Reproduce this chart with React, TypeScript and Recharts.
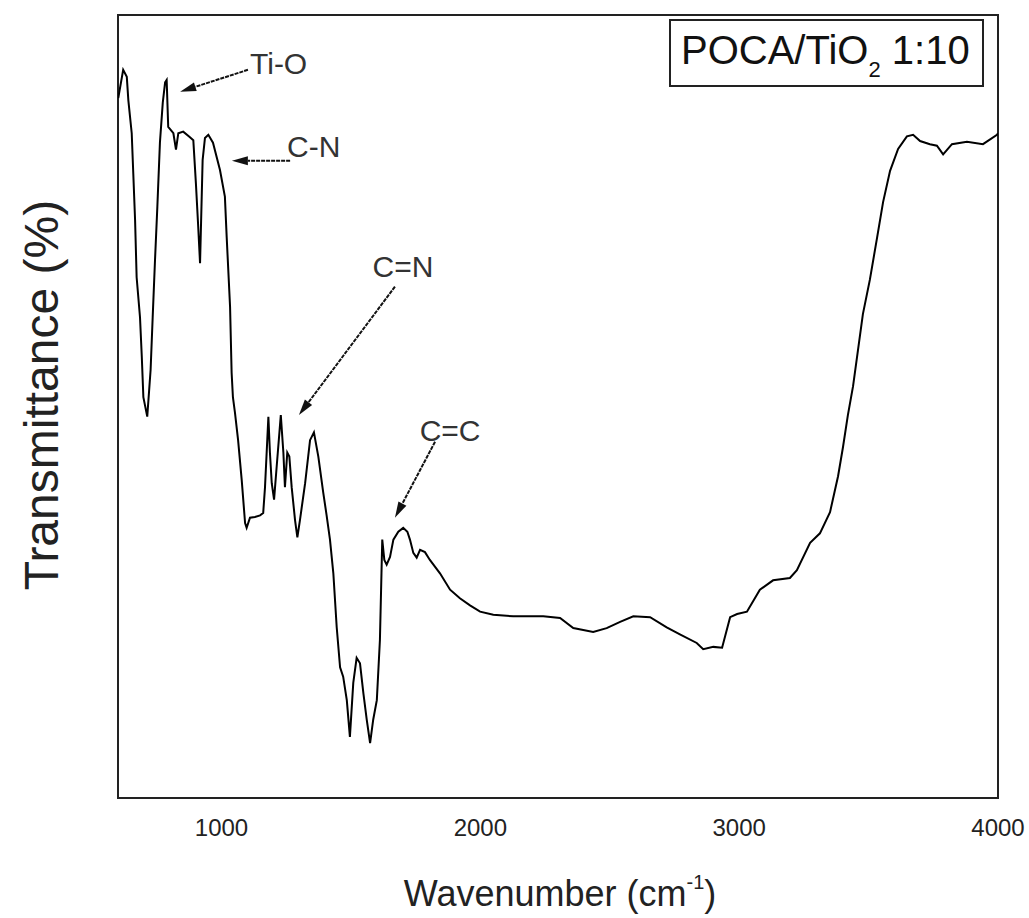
import React from 'react';
import { LineChart, Line, XAxis, YAxis, ReferenceArea, ReferenceLine } from 'recharts';

// wavenumber (cm-1) and transmittance (arb. %)
const wavenumber = [
  601, 620, 634, 640, 653, 659, 666, 672, 685, 692, 698, 713, 726, 734, 743, 752, 762, 773, 782, 788,
  794, 814, 824, 833, 852, 878, 891, 901, 910, 917, 927, 936, 949, 967, 994, 1013, 1020, 1033, 1039, 1044,
  1052, 1064, 1078, 1091, 1097, 1110, 1129, 1149, 1161, 1168, 1181, 1187, 1194, 1203, 1213, 1229, 1239, 1245, 1254, 1262,
  1271, 1284, 1293, 1303, 1323, 1342, 1357, 1374, 1393, 1406, 1419, 1432, 1445, 1458, 1470, 1484, 1496, 1509, 1522, 1535,
  1548, 1561, 1574, 1586, 1600, 1612, 1621, 1629, 1638, 1651, 1664, 1683, 1702, 1718, 1728, 1741, 1754, 1767, 1786, 1805,
  1844, 1883, 1921, 1960, 1999, 2050, 2127, 2243, 2308, 2359, 2436, 2488, 2540, 2591, 2656, 2720, 2771, 2836, 2861, 2900,
  2934, 2965, 2992, 3030, 3080, 3131, 3196, 3223, 3274, 3312, 3351, 3382, 3401, 3420, 3440, 3459, 3478, 3505, 3533, 3556,
  3583, 3614, 3648, 3672, 3699, 3737, 3764, 3788, 3822, 3880, 3942, 3996, 4000,
];
const transmittance = [
  89.4, 93.0, 92.1, 89.1, 84.9, 79.8, 73.8, 66.5, 61.4, 56.3, 51.2, 48.7, 54.7, 61.4, 68.7, 75.5, 83.7, 88.8, 91.4, 91.7,
  85.7, 84.9, 82.8, 84.9, 85.1, 84.4, 84.0, 78.5, 72.9, 68.3, 81.5, 84.3, 84.7, 83.7, 80.2, 76.8, 71.6, 62.7, 54.3, 51.2,
  49.2, 45.7, 40.6, 35.1, 34.5, 35.8, 35.9, 36.1, 36.4, 39.7, 48.7, 44.1, 40.2, 38.1, 42.3, 48.9, 44.1, 39.7, 44.1, 43.6,
  39.7, 35.5, 33.3, 35.5, 40.2, 45.7, 46.7, 43.6, 39.0, 36.1, 33.0, 28.7, 21.8, 16.7, 15.5, 12.5, 7.8, 14.7, 17.9, 17.2,
  13.4, 10.0, 7.0, 10.0, 12.5, 20.2, 33.0, 30.4, 29.8, 30.8, 33.0, 34.0, 34.5, 34.0, 33.0, 31.3, 30.7, 31.7, 31.4, 30.4,
  28.7, 26.6, 25.5, 24.6, 23.8, 23.4, 23.2, 23.2, 23.0, 21.7, 21.2, 21.7, 22.5, 23.2, 23.1, 21.8, 20.9, 19.8, 19.0, 19.3,
  19.2, 23.1, 23.5, 23.8, 26.6, 27.8, 28.1, 29.1, 32.6, 33.8, 36.5, 41.1, 44.8, 48.9, 52.6, 57.2, 61.8, 66.2, 71.6, 76.1,
  80.1, 82.9, 84.5, 84.7, 83.9, 83.5, 83.3, 82.2, 83.5, 83.8, 83.5, 84.7, 84.9,
];
const xTicks = [1000, 2000, 3000, 4000];

// peak labels: text position, arrow tail and arrow tip (data coords)
const peakLabels = ['Ti-O', 'C-N', 'C=N', 'C=C'];
const labelPos = [
  [1110, 93.9, 'start'],
  [1253, 83.3, 'start'],
  [1701, 67.9, 'middle'],
  [1883, 47.0, 'middle'],
];
const arrowTail = [[1102, 93.0], [1265, 81.4], [1670, 65.3], [1825, 45.5]];
const arrowTip = [[840, 90.2], [1040, 81.4], [1299, 48.9], [1670, 35.8]];

const data = wavenumber.map((w, i) => ({ wn: w, t: transmittance[i] }));

const font = 'Arial, "Liberation Sans", sans-serif';

function Arrow(props: any) {
  const { x1, y1, x2, y2 } = props;
  const dx = x2 - x1;
  const dy = y2 - y1;
  const len = Math.sqrt(dx * dx + dy * dy) || 1;
  const ux = dx / len;
  const uy = dy / len;
  const hl = 16;
  const hw = 4.5;
  const bx = x2 - ux * hl;
  const by = y2 - uy * hl;
  const pts = `${x2},${y2} ${bx - uy * hw},${by + ux * hw} ${bx + uy * hw},${by - ux * hw}`;
  return (
    <g>
      <line x1={x1} y1={y1} x2={bx} y2={by} stroke="#111" strokeWidth={2} strokeDasharray="4 1" />
      <polygon points={pts} fill="#111" />
    </g>
  );
}

function PeakText(props: any) {
  const { viewBox, value, anchor } = props;
  const x = viewBox ? viewBox.x : 0;
  const y = viewBox ? viewBox.y : 0;
  return (
    <text x={x} y={y} dy="0.36em" textAnchor={anchor} fontFamily={font} fontSize={30} fill="#333">
      {value}
    </text>
  );
}

export default function App() {
  return (
    <div style={{ position: 'absolute', left: 0, top: 0, width: 1029, height: 918, background: '#fff' }}>
      <LineChart width={1029} height={918} data={data} margin={{ top: 15, right: 31, left: 118, bottom: 0 }}>
        <XAxis
          dataKey="wn"
          type="number"
          domain={[600, 4000]}
          ticks={xTicks}
          allowDataOverflow
          axisLine={false}
          tickLine={false}
          tickSize={0}
          tickMargin={21}
          height={120}
          tick={{ fontFamily: font, fontSize: 24, fill: '#222' }}
        />
        <YAxis hide type="number" domain={[0, 100]} allowDataOverflow />
        <ReferenceArea x1={600} x2={4000} y1={0} y2={100} fill="none" stroke="#222" strokeWidth={2} ifOverflow="extendDomain" />
        <Line type="linear" dataKey="t" stroke="#000" strokeWidth={2} dot={false} isAnimationActive={false} />
        {peakLabels.map((lab, i) => (
          <ReferenceLine
            key={'a' + lab}
            segment={[
              { x: arrowTail[i][0], y: arrowTail[i][1] },
              { x: arrowTip[i][0], y: arrowTip[i][1] },
            ]}
            shape={Arrow}
          />
        ))}
        {peakLabels.map((lab, i) => (
          <ReferenceLine
            key={'t' + lab}
            segment={[
              { x: labelPos[i][0] as number, y: labelPos[i][1] as number },
              { x: labelPos[i][0] as number, y: labelPos[i][1] as number },
            ]}
            stroke="none"
            label={(p: any) => <PeakText {...p} value={lab} anchor={labelPos[i][2]} />}
          />
        ))}
      </LineChart>
      <svg width={1029} height={918} style={{ position: 'absolute', left: 0, top: 0, pointerEvents: 'none' }}>
        <text
          transform="translate(58,395) rotate(-90)"
          textAnchor="middle"
          fontFamily={font}
          fontSize={48}
          fill="#222"
        >
          Transmittance (%)
        </text>
        <text x={560} y={906} textAnchor="middle" fontFamily={font} fontSize={36} fill="#222">
          Wavenumber (cm
          <tspan fontSize={20} dy={-17}>-1</tspan>
          <tspan dy={17}>)</tspan>
        </text>
        <rect x={670} y={20} width={313} height={66} fill="#fff" stroke="#222" strokeWidth={2} />
        <text x={681} y={64} fontFamily={font} fontSize={40} fill="#111">
          POCA/TiO
          <tspan fontSize={22} dy={13}>2</tspan>
          <tspan dy={-13}> 1:10</tspan>
        </text>
      </svg>
    </div>
  );
}
